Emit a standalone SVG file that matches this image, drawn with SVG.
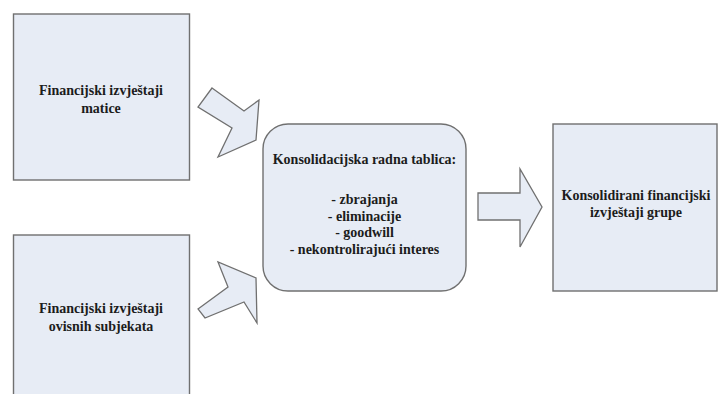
<svg xmlns="http://www.w3.org/2000/svg" width="718" height="394" viewBox="0 0 718 394">
<style>
.box{fill:#e7ecf5;stroke:#707070;stroke-width:1.4}
.arrow{fill:#e7ecf5;stroke:#707070;stroke-width:1.3;stroke-linejoin:miter}
.t{font-family:"Liberation Serif","Times New Roman",serif;font-weight:bold;font-size:14px;fill:#1c1c1c;text-anchor:middle}
</style>
<rect width="718" height="394" fill="#ffffff"/>
<g id="node-matica">
<rect class="box" x="13.5" y="14" width="176" height="166"/>
<text class="t" x="101" y="95">Financijski izvještaji</text>
<text class="t" x="101" y="113">matice</text>
</g>
<g id="node-ovisni">
<rect class="box" x="13.5" y="235" width="176" height="170"/>
<text class="t" x="101" y="313">Financijski izvještaji</text>
<text class="t" x="101" y="331">ovisnih subjekata</text>
</g>
<g id="node-tablica">
<rect class="box" x="263" y="124" width="203" height="167" rx="25" ry="25"/>
<text class="t" x="364.5" y="164">Konsolidacijska radna tablica:</text>
<text class="t" x="364.5" y="204">- zbrajanja</text>
<text class="t" x="364.5" y="221">- eliminacije</text>
<text class="t" x="364.5" y="237">- goodwill</text>
<text class="t" x="364.5" y="254">- nekontrolirajući interes</text>
</g>
<g id="node-grupa">
<rect class="box" x="553" y="124" width="164" height="167"/>
<text class="t" x="636" y="200">Konsolidirani financijski</text>
<text class="t" x="636" y="217">izvještaji grupe</text>
</g>
<g id="connectors">
<polygon class="arrow" points="212,88 244,111 259,100 256,140 218,157 232,128 198,107"/>
<polygon class="arrow" points="198,309 228,287 218,262 256,278 257,323 244,302 205,318"/>
<polygon class="arrow" points="478,193 520,193 520,169 542,207 520,247 520,220 478,220"/>
</g>
</svg>
